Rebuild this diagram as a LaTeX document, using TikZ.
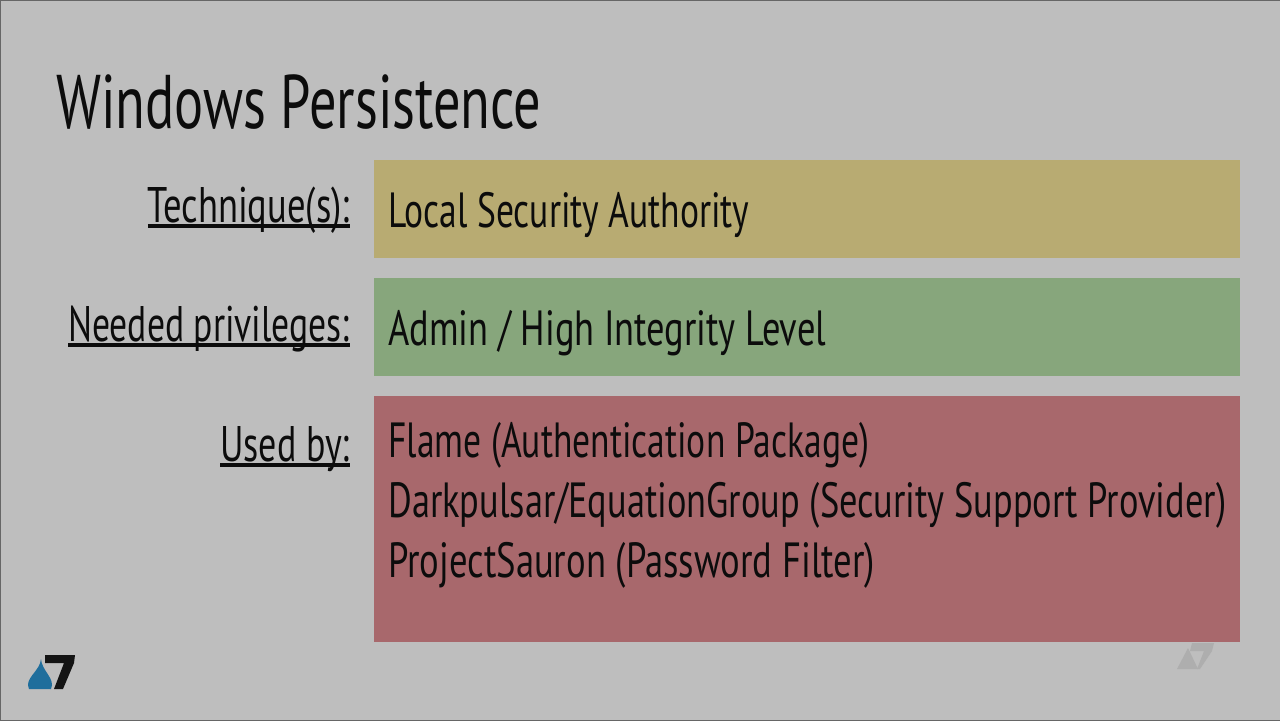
\documentclass[tikz,border=0pt]{standalone}
\usepackage{fontspec}
\setmainfont{PT Sans}
\usetikzlibrary{positioning}
\newcommand{\thickul}[1]{\setbox0\hbox{#1}\rlap{\rule[-3pt]{\wd0}{2pt}}\box0}
\definecolor{slidebg}{HTML}{BEBEBE}
\definecolor{yellowbar}{HTML}{B8AB72}
\definecolor{greenbar}{HTML}{87A67C}
\definecolor{redbar}{HTML}{A8686C}
\definecolor{logoblue}{HTML}{1F6E9C}
\definecolor{ghostgrey}{HTML}{AEAEAE}
\definecolor{inktext}{HTML}{0C0C0C}
\tikzset{
  bar/.style={anchor=north west, inner sep=0pt, minimum width=433pt},
  caption/.style={anchor=base east, text=inktext, font=\fontsize{25}{30}\selectfont, xscale=.72, inner sep=0pt},
  entry/.style={anchor=base west, text=inktext, font=\fontsize{24.7}{30}\selectfont, xscale=.72, inner sep=0pt},
}
\begin{document}
\begin{tikzpicture}[x=0.5pt,y=-0.5pt]
\useasboundingbox (0,0) rectangle (1280,720);
\fill[slidebg] (0,0) rectangle (1280,720);
\draw[black!60, line width=.5pt] (0,0) rectangle (1280,720);
\node[anchor=base west, text=inktext, font=\fontsize{38}{44}\selectfont, xscale=.715, inner sep=0pt] (title) at (56,128) {Windows Persistence};
\node[bar, fill=yellowbar, minimum height=49pt] (techbar) at (374,160) {};
\node[bar, fill=greenbar, minimum height=49pt] (privbar) at (374,278) {};
\node[bar, fill=redbar, minimum height=123pt] (usedbar) at (374,396) {};
\node[caption, xscale=1.015] (techlabel) at (350,222) {\thickul{Technique(s):}};
\node[caption, xscale=.99] (privlabel) at (350,341) {\thickul{Needed privileges:}};
\node[caption] (usedlabel) at (350,461) {\thickul{Used by:}};
\node[entry] (techtext) at (388,227) {Local Security Authority};
\node[entry, xscale=1.024] (privtext) at (388,345) {Admin / High Integrity Level};
\node[entry] (flame) at (388,457) {Flame (Authentication Package)};
\node[entry, xscale=1.023] (dark) at (388,517) {Darkpulsar/EquationGroup (Security Support Provider)};
\node[entry, xscale=1.03] (sauron) at (388,577) {ProjectSauron (Password Filter)};
% logo
\fill[logoblue] (41,659) .. controls (42,670) and (52,676) .. (52,685) -- (51,689) -- (29,689) -- (28,685) .. controls (28,676) and (40,670) .. (41,659) -- cycle;
\fill[black!92] (45,655) -- (75,655) -- (74,663) -- (63,689) -- (54,689) -- (64,663) -- (45,663) -- cycle;
% faint logo, right
\fill[ghostgrey] (1188,648) -- (1198,669) -- (1177,669) -- cycle;
\fill[ghostgrey] (1192,643) -- (1214,643) -- (1212,651) -- (1200,669) -- (1197,669) -- (1204,651) -- (1190,651) -- cycle;
\end{tikzpicture}
\end{document}
